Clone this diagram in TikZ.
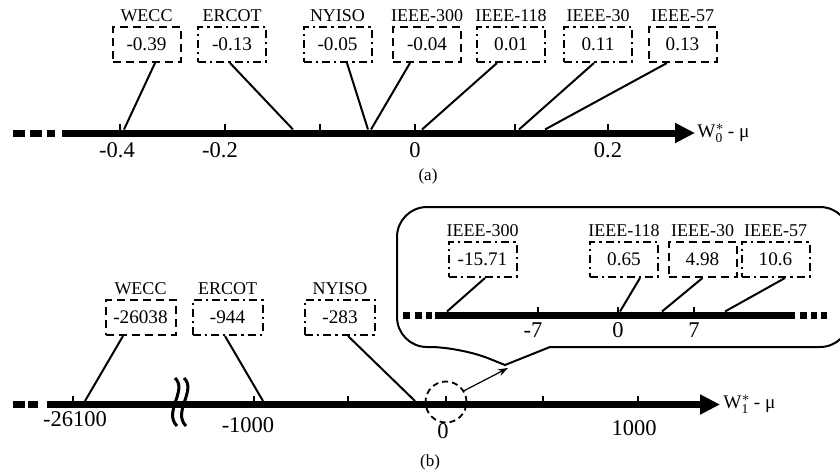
\documentclass[tikz,border=0pt]{standalone}
\usepackage{fontspec}
\setmainfont{Liberation Serif}
\usetikzlibrary{positioning,calc,arrows.meta}

\begin{document}
\begin{tikzpicture}[x=0.5pt, y=-0.5pt,
  valbox/.style={draw, line width=1pt, minimum width=34pt, minimum height=17.5pt, inner sep=0pt, font=\fontsize{9.6}{11}\selectfont},
  dashbox/.style={valbox, dash pattern=on 4pt off 2.5pt},
  dotbox/.style={valbox, dash pattern=on 4pt off 2pt on 1.2pt off 2pt},
  sysname/.style={inner sep=1.5pt, font=\fontsize{9}{10}\selectfont},
  ticklbl/.style={inner sep=0pt, font=\fontsize{11.25}{13}\selectfont},
  axisname/.style={anchor=west, inner sep=1pt, font=\fontsize{9.6}{11}\selectfont},
  caption/.style={inner sep=0pt, font=\fontsize{8.5}{10}\selectfont},
  axisline/.style={line width=3.5pt},
  tickmark/.style={line width=1pt},
  link/.style={line width=1pt}]
\useasboundingbox (0,0) rectangle (840,472);

% ---- (a) ----
\draw[axisline] (13,133) -- (25,133) (30,133) -- (42,133) (47,133) -- (55,133);
\draw[axisline, -{Triangle[length=10pt,width=9.5pt]}] (62,133) -- (695,133);
\foreach \x in {120,225,320,415,515,608}
  \draw[tickmark] (\x,133) -- (\x,124);
\node[ticklbl] (ta1) at (117,150) {-0.4};
\node[ticklbl] (ta2) at (220,150) {-0.2};
\node[ticklbl] (ta3) at (415,150) {0};
\node[ticklbl] (ta4) at (608,150) {0.2};
\node[axisname] (wa) at (695,133) {W$^{*}_{\mathrm{0}}$\,- μ};
\node[caption] (capa) at (428,176) {(a)};

\foreach \id/\sys/\val/\bx/\sty/\dx/\px in {
    wecc/WECC/-0.39/146.5/dashbox/8.5/124,
    ercot/ERCOT/-0.13/232/dotbox/-2/293,
    nyiso/NYISO/-0.05/337.5/dotbox/9.5/368,
    i300/IEEE-300/-0.04/427/dashbox/-17/371,
    i118/IEEE-118/0.01/511/dotbox/-14/422,
    i30/IEEE-30/0.11/598/dotbox/-4/519,
    i57/IEEE-57/0.13/682.5/dashbox/-15.5/545}
{
  \node[\sty] (a\id) at (\bx,44.5) {\val};
  \node[sysname, above=0.5pt of a\id] (a\id-name) {\sys};
  \coordinate (a\id-pt) at (\px,129.5);
  \draw[link] ($(a\id.south)+(\dx,0)$) -- (a\id-pt);
}

% ---- (b) ----
\draw[axisline] (13,404.5) -- (25,404.5) (28,404.5) -- (38,404.5);
\draw[axisline, -{Triangle[length=10pt,width=9.5pt]}] (47,404.5) -- (720,404.5);
\foreach \x in {73,254,348,446,543,638}
  \draw[tickmark] (\x,404.5) -- (\x,396);
% axis break
\foreach \s in {0,9}
  \draw[line width=1.5pt] (175+\s,378) .. controls (188+\s,390) and (163+\s,412) .. (177+\s,426);
\node[ticklbl] (tb1) at (75,419.5) {-26100};
\node[ticklbl] (tb2) at (248,425) {-1000};
\node[ticklbl] (tb3) at (443,431) {0};
\node[ticklbl] (tb4) at (634,428) {1000};
\node[axisname] (wb) at (721,404.5) {W$^{*}_{\mathrm{1}}$\,- μ};
\node[caption] (capb) at (430,462) {(b)};

\foreach \id/\sys/\val/\bx/\sty/\dx/\px in {
    wecc/WECC/-26038/140.5/dashbox/-17.5/85,
    ercot/ERCOT/-944/227.5/dotbox/-2.5/263,
    nyiso/NYISO/-283/340/dotbox/8/415}
{
  \node[\sty, minimum width=35pt] (b\id) at (\bx,317.5) {\val};
  \node[sysname, above=0.5pt of b\id] (b\id-name) {\sys};
  \coordinate (b\id-pt) at (\px,401);
  \draw[link] ($(b\id.south)+(\dx,0)$) -- (b\id-pt);
}

% zoomed part
\node[draw, circle, dash pattern=on 3pt off 2pt, line width=0.9pt, minimum size=20.5pt, inner sep=0pt] (zoomzero) at (446,402) {};
\coordinate (tip) at (508,368);
\draw[line width=0.6pt, -{Stealth[length=5pt,width=3.5pt]}] (zoomzero.32) -- (tip);
\draw[line width=1pt] (505,365) -- (550,347) [rounded corners=15pt] -- (850,347) -- (850,207) -- (397,207) -- (397,347) -- (460,347) [sharp corners] -- cycle;

\draw[axisline] (403,315) -- (410,315) (415,315) -- (422,315) (426,315) -- (432,315)
  (800,315) -- (807,315) (811,315) -- (817,315) (821,315) -- (827,315);
\draw[axisline] (435,315) -- (795,315);
\foreach \x in {538,618,694}
  \draw[tickmark] (\x,315) -- (\x,307);
\node[ticklbl] (tc1) at (533,330) {-7};
\node[ticklbl] (tc2) at (618,330) {0};
\node[ticklbl] (tc3) at (694,330) {7};

\foreach \id/\sys/\val/\bx/\sty/\dx/\px in {
    i300/IEEE-300/-15.71/482.5/dotbox/2.5/447,
    i118/IEEE-118/0.65/624/dotbox/16/620,
    i30/IEEE-30/4.98/702.5/dashbox/0/662,
    i57/IEEE-57/10.6/775.5/dotbox/9.5/725}
{
  \node[\sty] (c\id) at (\bx,259.5) {\val};
  \node[sysname, above=0.5pt of c\id] (c\id-name) {\sys};
  \coordinate (c\id-pt) at (\px,311.5);
  \draw[link] ($(c\id.south)+(\dx,0)$) -- (c\id-pt);
}
\end{tikzpicture}
\end{document}
